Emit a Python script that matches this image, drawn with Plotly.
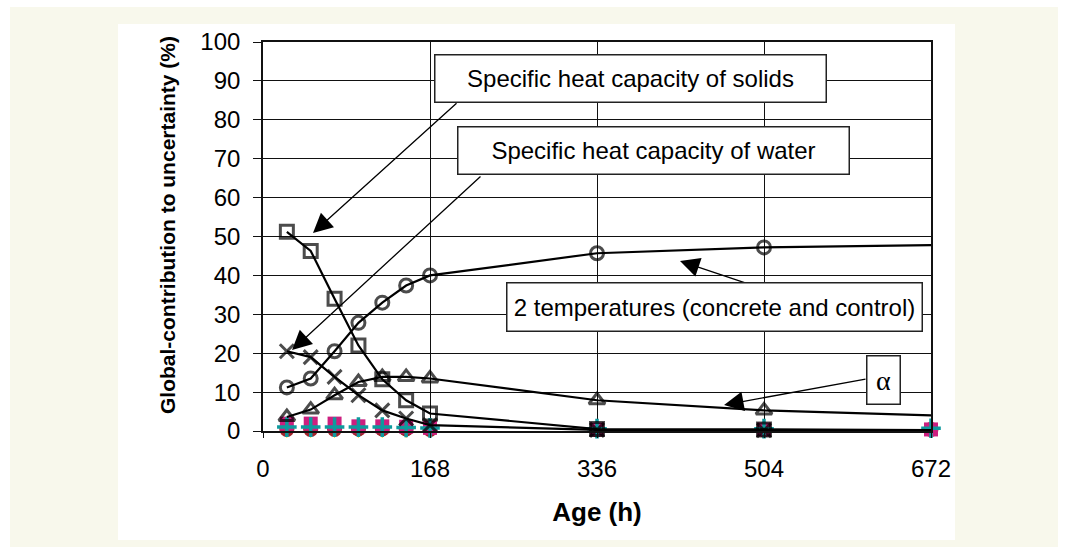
import plotly.graph_objects as go

# ---------------- data ----------------
age_h = [24, 48, 72, 96, 120, 144, 168, 336, 504, 672]
cp_solids = [51.2, 46.3, 34.0, 22.0, 13.3, 7.9, 4.5, 0.5, 0.4, 0.2]
cp_water = [20.5, 19.0, 13.9, 9.2, 5.3, 3.2, 1.5, 0.3, 0.2, 0.1]
two_temps = [11.2, 13.5, 20.5, 27.8, 33.0, 37.4, 40.0, 45.7, 47.2, 47.8]
alpha = [3.6, 5.5, 9.2, 12.6, 13.9, 13.9, 13.5, 7.9, 5.3, 4.0]
other_yellow = [0.0, 0.0, 0.0, 0.0, 0.0, 0.0, 0.0, 0.0, 0.0, 0.0]
other_maroon = [0.4, 0.4, 0.4, 0.5, 0.5, 0.5, 0.4, 0.3, 0.3, 0.4]
other_pink = [1.9, 1.9, 1.9, 1.2, 1.2, 1.1, 0.8, 0.4, 0.4, 0.4]
other_teal = [1.0, 1.0, 1.0, 1.0, 1.0, 0.9, 0.8, 0.6, 0.6, 0.7]

x_tick_vals = [0, 168, 336, 504, 672]
y_tick_vals = [0, 10, 20, 30, 40, 50, 60, 70, 80, 90, 100]

labels = ["Specific heat capacity of solids", "Specific heat capacity of water",
          "2 temperatures (concrete and control)", "α"]
x_title = "Age (h)"
y_title = "Global-contribution to uncertainty (%)"

# ---------------- layout geometry ----------------
W, H = 1067, 547
ML, MR, MT, MB = 263, 136, 42, 116
PW, PH = W - ML - MR, H - MT - MB


def px2paper_x(px):
    return (px - ML) / PW


def px2paper_y(py):
    return (H - MB - py) / PH


FONT = "Liberation Sans, Arial, sans-serif"
fig = go.Figure()

# colored near-zero series (drawn first, below the black ones)
for vals, sym, col, sz, lw in [
    (other_yellow, "triangle-down", "#FFC800", 14, 0),
    (other_maroon, "circle", "#A3232B", 15, 0),
    (other_pink, "square", "#CC1F7F", 14, 0),
    (other_teal, "cross-thin-open", "#0E9A9E", 14, 3.5),
]:
    fig.add_trace(go.Scatter(
        x=age_h, y=vals, mode="markers", cliponaxis=False, showlegend=False,
        marker=dict(symbol=sym, color=col, size=sz, opacity=1,
                    line=dict(width=lw, color=col)),
    ))

black_size = lambda s: [s] * (len(age_h) - 1) + [0]
for vals, sym, sz in [
    (alpha, "triangle-up-open", 14),
    (cp_water, "x-thin-open", 14),
    (two_temps, "circle-open", 13),
    (cp_solids, "square-open", 13),
]:
    fig.add_trace(go.Scatter(
        x=age_h, y=vals, mode="lines+markers", cliponaxis=False, showlegend=False,
        line=dict(color="black", width=2.2),
        marker=dict(symbol=sym, color="black", size=black_size(sz),
                    line=dict(width=3, color="black")),
    ))

# backgrounds
fig.add_shape(type="rect", xref="paper", yref="paper", layer="below",
              x0=px2paper_x(10), x1=px2paper_x(1058), y0=px2paper_y(547), y1=px2paper_y(7),
              fillcolor="#F8F8EC", line=dict(width=0))
fig.add_shape(type="rect", xref="paper", yref="paper", layer="below",
              x0=px2paper_x(118), x1=px2paper_x(955), y0=px2paper_y(540), y1=px2paper_y(24),
              fillcolor="white", line=dict(width=0))

# arrows (tail -> head, data coordinates)
arrows = [
    ((196.2, 84.6), (50.3, 50.9)),
    ((220.3, 65.8), (29.2, 20.8)),
    ((485.9, 38.0), (419.5, 43.7)),
    ((607.6, 13.4), (463.8, 6.7)),
]
for (tx, ty), (hx, hy) in arrows:
    fig.add_annotation(x=hx, y=hy, ax=tx, ay=ty, xref="x", yref="y", axref="x", ayref="y",
                       text="", showarrow=True, arrowhead=2, arrowsize=3.0, arrowwidth=1.3,
                       arrowcolor="black", standoff=0, startstandoff=0)

# label boxes
boxes = [
    (labels[0], 369.2, 90.7, 390, 46, FONT, 24),
    (labels[1], 393.3, 72.0, 390, 46, FONT, 24),
    (labels[2], 453.7, 31.8, 414, 47, FONT, 24),
    (labels[3], 624.7, 13.0, 32, 47, "Liberation Serif, Times New Roman, serif", 28),
]
for txt, cx, cy, bw, bh, fam, fs in boxes:
    fig.add_annotation(x=cx, y=cy, xref="x", yref="y", text=txt, showarrow=False,
                       xanchor="center", yanchor="middle", width=bw, height=bh,
                       bgcolor="white", bordercolor="#222", borderwidth=1.5, borderpad=0,
                       font=dict(family=fam, size=fs, color="black"))

# y-axis title placed as rotated text
fig.add_annotation(x=px2paper_x(167), y=px2paper_y(225), xref="paper", yref="paper",
                   text="<b>" + y_title + "</b>", textangle=-90, showarrow=False,
                   xanchor="center", yanchor="middle",
                   font=dict(size=21, family=FONT, color="black"))

fig.update_layout(
    width=W, height=H,
    margin=dict(l=ML, r=MR, t=MT, b=MB, autoexpand=False),
    paper_bgcolor="white", plot_bgcolor="rgba(0,0,0,0)",
    font=dict(family=FONT, color="black"),
    showlegend=False,
)
fig.update_xaxes(
    range=[0, 672], tickmode="array", tickvals=x_tick_vals,
    ticktext=[str(v) for v in x_tick_vals],
    showgrid=True, gridcolor="#111", gridwidth=1.4,
    showline=True, linecolor="#111", linewidth=1.6, mirror=True,
    ticks="outside", ticklen=5, tickwidth=1.4, tickcolor="#111",
    tickfont=dict(size=24, family=FONT), ticklabelstandoff=10,
    zeroline=False,
    title=dict(text="<b>" + x_title + "</b>", font=dict(size=26, family=FONT), standoff=22),
)
fig.update_yaxes(
    range=[0, 100], tickmode="array", tickvals=y_tick_vals,
    ticktext=[str(v) for v in y_tick_vals],
    showgrid=True, gridcolor="#111", gridwidth=1.4,
    showline=True, linecolor="#111", linewidth=1.6, mirror=True,
    ticks="outside", ticklen=8, tickwidth=1.4, tickcolor="#111",
    tickfont=dict(size=24, family=FONT), ticklabelstandoff=8,
    zeroline=False,
)

fig.write_html("out.html")
